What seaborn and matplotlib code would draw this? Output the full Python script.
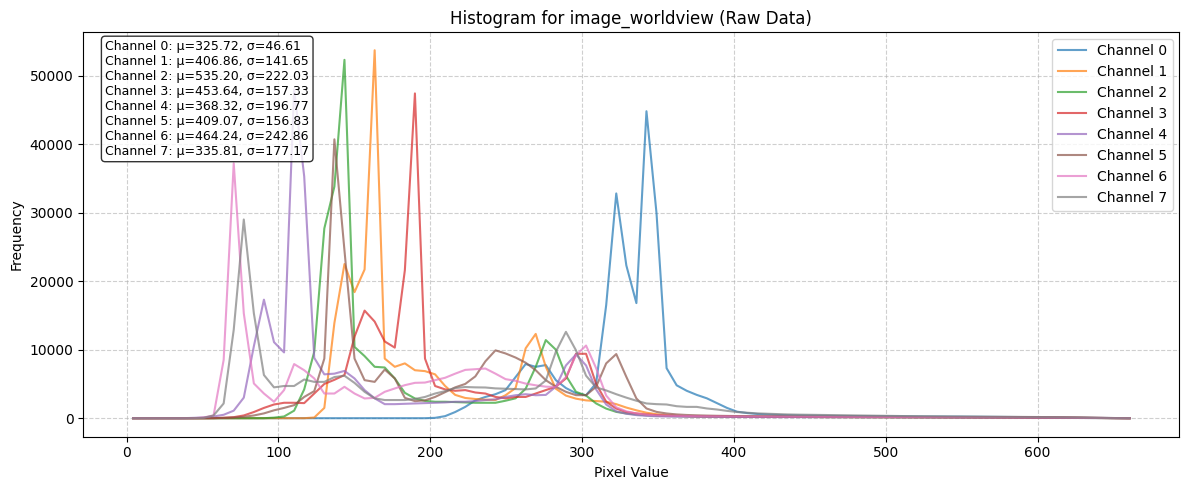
import numpy as np
import pandas as pd
import seaborn as sns
import matplotlib.pyplot as plt


# --- DATOS ---
TITLE = "Histogram for image_worldview (Raw Data)"
BIN_MIN = 1.0
BIN_MAX = 664.0
N_BINS = 100

channel_names = [f"Channel {i}" for i in range(8)]
channel_means = [325.72, 406.86, 535.20, 453.64, 368.32, 409.07, 464.24, 335.81]
channel_stds = [46.61, 141.65, 222.03, 157.33, 196.77, 156.83, 242.86, 177.17]

ch0 = [
    0, 0, 0, 0, 0, 0, 0, 0, 0, 0,
    0, 0, 0, 0, 0, 0, 0, 0, 0, 0,
    0, 0, 0, 0, 0, 0, 0, 0, 0, 0,
    50, 300, 900, 1650, 2600, 3100, 3500, 4100, 6000, 7900,
    7500, 7750, 5550, 4400, 3650, 3350, 5100, 16500, 32800, 22300,
    16800, 44800, 29900, 7300, 4800, 4000, 3400, 2900, 2200, 1500,
    950, 750, 620, 540, 480, 440, 410, 390, 370, 350,
    330, 320, 310, 300, 290, 280, 270, 260, 250, 240,
    240, 230, 230, 220, 210, 200, 190, 180, 170, 160,
    150, 140, 120, 100, 80, 60, 40, 25, 10, 0,
]
ch1 = [
    0, 0, 0, 0, 0, 0, 0, 0, 0, 0,
    0, 0, 0, 0, 0, 0, 0, 0, 100, 1500,
    13900, 22500, 18400, 21700, 53700, 8700, 7500, 8000, 7000, 6870,
    6400, 4700, 3400, 2950, 2800, 2700, 2650, 3350, 4400, 10200,
    12300, 7500, 4300, 3300, 2850, 2600, 2500, 2400, 2050, 1550,
    1150, 800, 580, 440, 350, 300, 270, 250, 240, 230,
    220, 210, 200, 200, 190, 190, 180, 180, 170, 170,
    170, 160, 160, 160, 150, 150, 150, 140, 140, 140,
    130, 130, 130, 120, 120, 120, 110, 110, 100, 100,
    90, 80, 70, 60, 50, 40, 30, 20, 10, 0,
]
ch2 = [
    0, 0, 0, 0, 0, 0, 0, 0, 0, 0,
    0, 0, 0, 0, 80, 250, 1100, 4200, 9700, 27700,
    33800, 52300, 10400, 9060, 7500, 7400, 5800, 3700, 2880, 2530,
    2400, 2400, 2350, 2300, 2250, 2250, 2250, 2550, 2900, 4300,
    7500, 11400, 10000, 6200, 3850, 3300, 2150, 1400, 920, 690,
    540, 430, 360, 320, 290, 270, 250, 240, 230, 220,
    210, 200, 200, 190, 190, 180, 180, 170, 170, 160,
    160, 160, 150, 150, 150, 140, 140, 140, 130, 130,
    130, 120, 120, 120, 110, 110, 100, 100, 90, 90,
    80, 70, 60, 50, 40, 30, 20, 10, 5, 0,
]
ch3 = [
    0, 0, 0, 0, 0, 0, 0, 0, 20, 60,
    150, 400, 900, 1500, 2000, 2250, 2250, 2200, 3600, 5000,
    5600, 6300, 11900, 15700, 14100, 11200, 10300, 21600, 47400, 8700,
    4700, 4200, 4000, 4100, 3750, 3600, 3100, 2900, 3100, 3100,
    3600, 4100, 4600, 5800, 9400, 9400, 5000, 2400, 1400, 900,
    700, 550, 450, 380, 330, 300, 280, 260, 250, 240,
    230, 220, 210, 200, 200, 190, 190, 180, 180, 170,
    170, 170, 160, 160, 160, 150, 150, 150, 140, 140,
    140, 130, 130, 130, 120, 120, 110, 110, 100, 100,
    90, 80, 70, 60, 50, 40, 30, 20, 10, 0,
]
ch4 = [
    0, 0, 0, 0, 0, 0, 50, 100, 250, 500,
    1100, 3000, 10500, 17300, 11100, 9600, 48000, 35300, 8800, 6400,
    6500, 6900, 5800, 4100, 2900, 2050, 2050, 2100, 2150, 2200,
    2250, 2300, 2400, 2400, 2500, 2650, 2750, 3100, 3350, 3500,
    3350, 3400, 4600, 7700, 9300, 7700, 4200, 2000, 1000, 650,
    450, 340, 280, 250, 230, 220, 210, 200, 190, 190,
    180, 180, 170, 170, 160, 160, 160, 150, 150, 150,
    140, 140, 140, 130, 130, 130, 120, 120, 120, 110,
    110, 110, 100, 100, 100, 90, 90, 90, 80, 80,
    70, 60, 50, 40, 30, 20, 15, 10, 5, 0,
]
ch5 = [
    0, 0, 0, 0, 0, 0, 0, 0, 0, 50,
    100, 200, 400, 700, 1150, 1500, 1900, 3100, 3950, 8700,
    40700, 24500, 8700, 5550, 5300, 7100, 5800, 2970, 2490, 2600,
    3100, 3800, 4500, 5000, 6100, 8300, 9900, 9450, 8850, 8100,
    7000, 5550, 4580, 3850, 3360, 3360, 4580, 8000, 9360, 6040,
    2880, 1420, 920, 690, 550, 470, 420, 380, 350, 330,
    310, 300, 290, 280, 270, 260, 250, 240, 230, 230,
    220, 220, 210, 210, 200, 200, 190, 190, 180, 180,
    170, 170, 160, 160, 150, 150, 140, 140, 130, 120,
    110, 100, 90, 80, 70, 50, 40, 30, 15, 0,
]
ch6 = [
    0, 0, 0, 0, 0, 0, 0, 100, 400, 8500,
    37200, 15300, 5070, 3600, 2400, 4100, 7900, 7000, 5800, 3600,
    3600, 4580, 3600, 2880, 2970, 3850, 4340, 4820, 5160, 5200,
    5550, 5900, 6500, 7050, 7150, 7250, 6500, 5700, 5450, 5050,
    4800, 4600, 4550, 6000, 9200, 10600, 7300, 3300, 1600, 1000,
    690, 500, 420, 370, 340, 320, 300, 290, 280, 270,
    260, 250, 240, 240, 230, 230, 220, 220, 210, 210,
    200, 200, 190, 190, 190, 180, 180, 170, 170, 170,
    160, 160, 150, 150, 140, 140, 130, 130, 120, 120,
    110, 100, 90, 80, 60, 50, 40, 25, 10, 0,
]
ch7 = [
    0, 0, 0, 0, 0, 0, 0, 50, 400, 2150,
    12900, 29000, 15300, 6300, 4500, 4700, 4700, 5650, 5300, 5300,
    6000, 6200, 5150, 3850, 2900, 2650, 2650, 2650, 2800, 3100,
    3600, 3950, 4400, 4550, 4500, 4480, 4350, 4300, 4250, 4200,
    4340, 5500, 9700, 12600, 9900, 6200, 4500, 4050, 3500, 3000,
    2550, 2150, 2050, 2000, 1750, 1650, 1650, 1420, 1270, 1070,
    900, 800, 700, 650, 600, 550, 520, 500, 480, 460,
    440, 420, 400, 380, 360, 340, 320, 300, 290, 280,
    270, 260, 250, 240, 230, 220, 210, 200, 190, 180,
    170, 150, 130, 110, 90, 70, 50, 30, 15, 0,
]
channel_counts = [ch0, ch1, ch2, ch3, ch4, ch5, ch6, ch7]


# --- PREPARACIÓN ---
edges = np.linspace(BIN_MIN, BIN_MAX, N_BINS + 1)
centers = (edges[:-1] + edges[1:]) / 2

rows = []
for name, counts in zip(channel_names, channel_counts):
    for x, c in zip(centers, counts):
        rows.append({'pixel': x, 'freq': c, 'channel': name})
df = pd.DataFrame(rows)


# --- GRÁFICO ---
fig, ax = plt.subplots(figsize=(11.89, 4.9), dpi=100)
sns.lineplot(
    data=df, x='pixel', y='freq', hue='channel',
    palette='tab10', alpha=0.7, linewidth=1.5,
    estimator=None, sort=False, ax=ax
)
sns.move_legend(ax, 'upper right', title=None)

ax.set_title(TITLE)
ax.set_xlabel('Pixel Value')
ax.set_ylabel('Frequency')
ax.grid(True, linestyle='--', alpha=0.6)

stats_text = "\n".join(
    f"{n}: μ={m:.2f}, σ={s:.2f}"
    for n, m, s in zip(channel_names, channel_means, channel_stds)
)
ax.text(0.02, 0.98, stats_text, transform=ax.transAxes, fontsize=9,
        va='top', ha='left',
        bbox=dict(boxstyle='round', facecolor='white', alpha=0.8))

fig.subplots_adjust(left=0.070, right=0.992, top=0.935, bottom=0.109)
plt.savefig('out.png')
